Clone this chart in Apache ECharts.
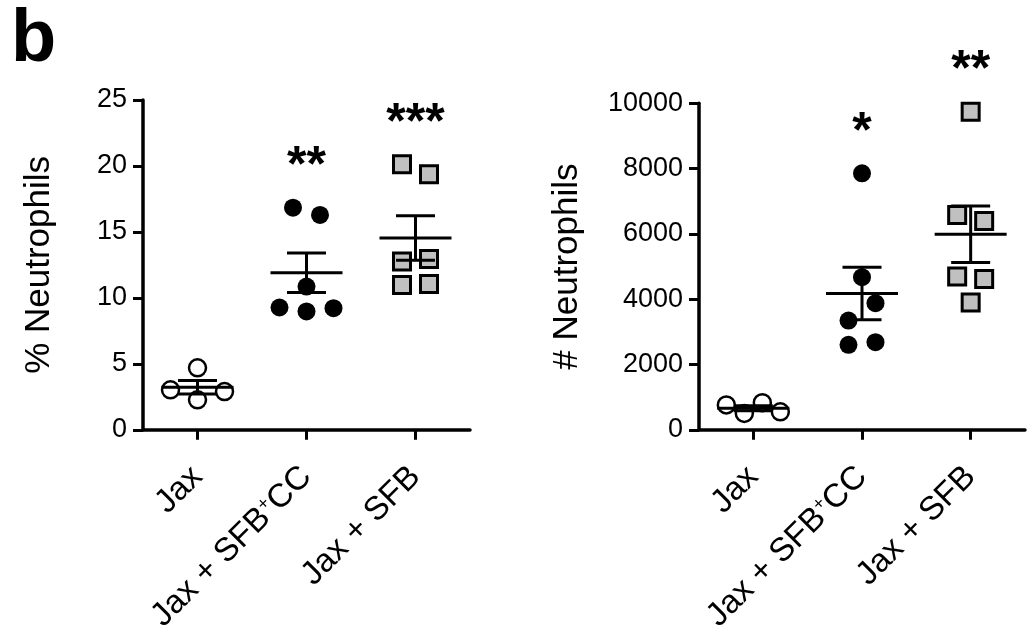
<!DOCTYPE html>
<html>
<head>
<meta charset="utf-8">
<script src="https://cdn.jsdelivr.net/npm/echarts@6.0.0/dist/echarts.min.js"></script>
<style>
html,body{margin:0;padding:0;background:#fff;}
#chart{width:1030px;height:635px;}
</style>
</head>
<body>
<div id="chart"></div>
<script>
// ---- data ----
const categories = ['Jax', 'Jax + SFB⁺CC', 'Jax + SFB'];

const pctTitle = '% Neutrophils';
const pctTicks = [0, 5, 10, 15, 20, 25];
const pctJax = [4.7, 3.03, 2.27, 2.9];
const pctSfbCc = [16.84, 16.29, 10.86, 9.27, 8.97, 9.22];
const pctSfb = [20.13, 19.37, 12.75, 12.95, 10.98, 11.06];
const pctStars = ['', '**', '***'];

const numTitle = '# Neutrophils';
const numTicks = [0, 2000, 4000, 6000, 8000, 10000];
const numJax = [760, 500, 830, 550];
const numSfbCc = [7857, 4673, 3347, 3878, 2602, 2684];
const numSfb = [9745, 6582, 6398, 4694, 4622, 3897];
const numStars = ['', '*', '**'];

const panelLabel = 'b';

// ---- styling / layout ----
const FONT = '"Liberation Sans", Arial, Helvetica, sans-serif';
const ROW_H = 20;    // px: points closer than this vertically share a row
const STEP = 27;     // px: horizontal spacing of points within a row
const ROW_MAXW = 54; // px: widest spread of one row
const MEAN_HALF = 36, CAP_HALF = 19.5;

function rowOffsets(ys) {
  const idx = ys.map((y, i) => i).sort((a, b) => ys[a] - ys[b]);
  const rows = [];
  let cur = null;
  idx.forEach(i => {
    if (!cur || ys[i] - cur.top > ROW_H) { cur = { top: ys[i], items: [] }; rows.push(cur); }
    cur.items.push(i);
  });
  const off = ys.map(() => 0);
  rows.forEach(r => {
    r.items.sort((a, b) => a - b);
    const n = r.items.length;
    const step = n > 1 ? Math.min(STEP, ROW_MAXW / (n - 1)) : 0;
    r.items.forEach((i, k) => { off[i] = (k - (n - 1) / 2) * step; });
  });
  return off;
}

function stats(vals) {
  const n = vals.length;
  const m = vals.reduce((a, b) => a + b, 0) / n;
  const sd = Math.sqrt(vals.reduce((a, b) => a + (b - m) * (b - m), 0) / (n - 1));
  return [m, sd / Math.sqrt(n)];
}

const panels = [
  { groups: [pctJax, pctSfbCc, pctSfb], ticks: pctTicks, title: pctTitle, stars: pctStars,
    grid: { left: 143, top: 100, width: 327, height: 330 }, nameGap: 86 },
  { groups: [numJax, numSfbCc, numSfb], ticks: numTicks, title: numTitle, stars: numStars,
    grid: { left: 699, top: 103.3, width: 326, height: 326.7 }, nameGap: 114 }
];

const grids = [], xAxes = [], yAxes = [], series = [];

panels.forEach((p, pi) => {
  grids.push(Object.assign({ containLabel: false }, p.grid));
  xAxes.push({
    type: 'category', gridIndex: pi, data: categories, boundaryGap: true,
    axisLine: { show: true, lineStyle: { color: '#000', width: 3.5 } },
    axisTick: { show: true, alignWithLabel: true, length: 10, lineStyle: { color: '#000', width: 3 } },
    axisLabel: {
      interval: 0, rotate: 45, margin: 42, color: '#000', fontSize: 33, fontFamily: FONT,
      formatter: v => v.split('⁺').map(s => '{a|' + s + '}').join('{s|+}'),
      rich: {
        a: { fontSize: 33, fontFamily: FONT, color: '#000' },
        s: { fontSize: 18, fontFamily: FONT, color: '#000', verticalAlign: 'top' }
      }
    },
    splitLine: { show: false }
  });
  const t = p.ticks;
  yAxes.push({
    type: 'value', gridIndex: pi, min: t[0], max: t[t.length - 1], interval: t[1] - t[0],
    name: p.title, nameLocation: 'middle', nameGap: p.nameGap,
    nameTextStyle: { fontSize: 35, color: '#000', fontFamily: FONT },
    axisLine: { show: true, lineStyle: { color: '#000', width: 3.5 } },
    axisTick: { show: true, length: 10, lineStyle: { color: '#000', width: 3 } },
    axisLabel: { margin: 16, color: '#000', fontSize: 27, fontFamily: FONT, formatter: v => String(v) },
    splitLine: { show: false }
  });

  const pts = [];
  p.groups.forEach((vals, g) => vals.forEach((v, k) => pts.push([g, v, k])));

  series.push({
    type: 'custom', xAxisIndex: pi, yAxisIndex: pi, z: 2, silent: true,
    data: pts, encode: { x: 0, y: 1 },
    renderItem: (params, api) => {
      const g = api.value(0), v = api.value(1), k = api.value(2);
      const vals = p.groups[g];
      const ys = vals.map(val => api.coord([g, val])[1]);
      const off = rowOffsets(ys);
      const c = api.coord([g, v]);
      const x = c[0] + off[k], y = c[1];
      if (g === 0) {
        return { type: 'circle', shape: { cx: x, cy: y, r: 8.5 },
                 style: { fill: 'none', stroke: '#000', lineWidth: 2.5 } };
      } else if (g === 1) {
        return { type: 'circle', shape: { cx: x, cy: y, r: 9 }, style: { fill: '#000' } };
      }
      return { type: 'rect', shape: { x: x - 8.5, y: y - 8.5, width: 17, height: 17 },
               style: { fill: '#c0c0c0', stroke: '#000', lineWidth: 3 } };
    }
  });

  series.push({
    type: 'custom', xAxisIndex: pi, yAxisIndex: pi, z: 3, silent: true,
    data: p.groups.map((vals, g) => [g].concat(stats(vals))),
    encode: { x: 0, y: 1 },
    renderItem: (params, api) => {
      const g = api.value(0), m = api.value(1), s = api.value(2);
      const c = api.coord([g, m]);
      const top = api.coord([g, m + s])[1], bot = api.coord([g, m - s])[1];
      const st = { stroke: '#000', lineWidth: 3 };
      return { type: 'group', children: [
        { type: 'line', shape: { x1: c[0] - MEAN_HALF, y1: c[1], x2: c[0] + MEAN_HALF, y2: c[1] }, style: st },
        { type: 'line', shape: { x1: c[0], y1: top, x2: c[0], y2: bot }, style: st },
        { type: 'line', shape: { x1: c[0] - CAP_HALF, y1: top, x2: c[0] + CAP_HALF, y2: top }, style: st },
        { type: 'line', shape: { x1: c[0] - CAP_HALF, y1: bot, x2: c[0] + CAP_HALF, y2: bot }, style: st }
      ]};
    }
  });

  series.push({
    type: 'custom', xAxisIndex: pi, yAxisIndex: pi, z: 4, silent: true,
    data: p.groups.map((vals, g) => [g, Math.max.apply(null, vals), g]).filter(d => p.stars[d[2]]),
    encode: { x: 0, y: 1 },
    renderItem: (params, api) => {
      const g = api.value(0), mx = api.value(1);
      const c = api.coord([g, mx]);
      return { type: 'text', x: c[0], y: c[1] - 40,
               style: { text: p.stars[g], fill: '#000', fontSize: 50, fontWeight: 'bold',
                        fontFamily: FONT, align: 'center', verticalAlign: 'middle' } };
    }
  });
});

const chart = echarts.init(document.getElementById('chart'), null, { renderer: 'canvas' });
chart.setOption({
  animation: false,
  backgroundColor: '#fff',
  textStyle: { fontFamily: FONT },
  grid: grids, xAxis: xAxes, yAxis: yAxes, series: series,
  graphic: [{ type: 'text', left: 11, top: 4,
              style: { text: panelLabel, fill: '#000', fontSize: 74, fontWeight: 'bold', fontFamily: FONT } }]
});
</script>
</body>
</html>
